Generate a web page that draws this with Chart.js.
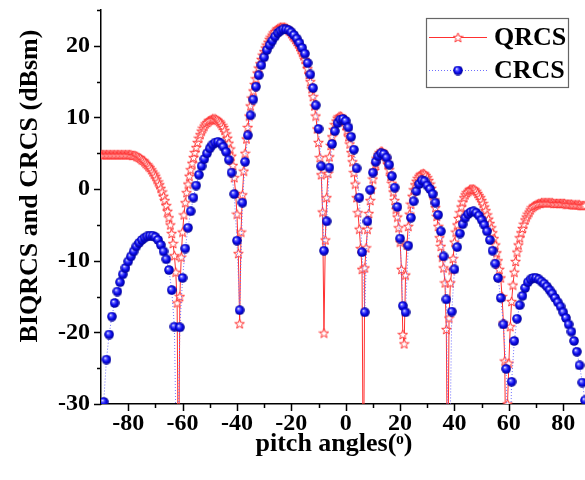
<!DOCTYPE html>
<html><head><meta charset="utf-8">
<script src="https://cdn.jsdelivr.net/npm/chart.js@4.4.1/dist/chart.umd.min.js"></script>
<style>html,body{margin:0;padding:0;background:#fff;} #wrap{width:585px;height:480px;position:relative;}</style>
</head><body><div id="wrap"><canvas id="c" width="585" height="480"></canvas></div>
<script>
// ---- data ----
const seriesNames = ['QRCS', 'CRCS'];
const xTicks = [-80, -60, -40, -20, 0, 20, 40, 60, 80];
const xMinorTicks = [-70, -50, -30, -10, 10, 30, 50, 70];
const yTicks = [-30, -20, -10, 0, 10, 20];
const yMinorTicks = [-25, -15, -5, 5, 15, 25];
const xTitle = 'pitch angles(\u1D52)';
const yTitle = 'BIQRCS and CRCS (dBsm)';

// QRCS sampled every 0.5 degree from -90
const qrcsStart = -90, qrcsStep = 0.5;
const qrcs = [
  4.8,4.8,4.8,4.8,4.8,4.8,4.8,4.8,4.8,4.8,
  4.8,4.8,4.8,4.8,4.8,4.8,4.8,4.8,4.8,4.8,
  4.8,4.8,4.8,4.7,4.7,4.7,4.6,4.5,4.4,4.3,
  4.1,4.0,3.8,3.6,3.4,3.2,3.0,2.7,2.4,2.1,
  1.8,1.4,1.0,0.6,0.1,-0.4,-1.0,-1.6,-2.3,-3.1,
  -4.0,-5.0,-6.2,-7.6,-9.3,-11.6,-15.9,-45,-15.0,-9.5,
  -6.0,-3.6,-1.9,-0.5,0.7,1.8,2.7,3.6,4.4,5.1,
  5.8,6.5,7.1,7.6,8.1,8.5,8.8,9.1,9.3,9.5,
  9.6,9.7,9.8,9.8,9.8,9.7,9.6,9.4,9.2,8.9,
  8.6,8.2,7.7,7.1,6.4,5.6,4.6,3.3,1.6,-0.6,
  -3.5,-9.0,-18.8,-6.0,-0.8,2.5,5.0,7.0,8.6,10.2,
  11.6,12.7,13.7,14.6,15.4,16.2,16.9,17.5,18.1,18.7,
  19.2,19.7,20.1,20.5,20.9,21.2,21.5,21.8,22.0,22.2,
  22.4,22.5,22.6,22.6,22.6,22.6,22.5,22.4,22.2,22.0,
  21.7,21.4,21.2,20.9,20.6,20.3,19.9,19.5,19.1,18.6,
  18.1,17.5,16.8,16.0,15.0,14.0,12.9,11.6,10.2,8.4,
  6.5,4.4,2.0,-3.2,-20.1,-7.1,-1.2,2.2,4.5,6.1,
  7.3,8.3,9.0,9.5,9.9,10.1,10.2,10.1,9.8,9.4,
  8.9,8.2,7.3,6.3,5.1,3.8,2.3,0.7,-1.2,-3.3,
  -5.6,-8.3,-11.2,-45,-11.0,-8.2,-5.6,-3.4,-1.6,0.0,
  1.4,2.6,3.5,4.3,4.8,5.1,5.3,5.2,5.0,4.6,
  4.1,3.5,2.7,1.8,0.8,-0.4,-1.6,-2.8,-3.9,-5.4,
  -7.4,-11.2,-20.3,-21.6,-12.0,-7.8,-5.2,-3.5,-2.1,-1.0,
  -0.1,0.6,1.1,1.5,1.8,2.0,2.1,2.2,2.1,1.9,
  1.6,1.2,0.7,0.1,-0.6,-1.5,-2.6,-3.8,-5.2,-6.8,
  -8.0,-9.5,-11.0,-13.1,-19.6,-45,-18.0,-13.1,-11.3,-9.7,
  -7.4,-6.0,-5.0,-4.1,-3.3,-2.5,-1.8,-1.2,-0.8,-0.5,
  -0.3,-0.1,0.0,0.0,0.0,-0.1,-0.3,-0.6,-0.9,-1.2,
  -1.6,-2.0,-2.5,-3.0,-3.6,-4.2,-4.8,-5.4,-6.1,-6.9,
  -7.8,-8.9,-10.0,-11.2,-12.4,-15.0,-18.7,-24.0,-45,-30.0,
  -24.3,-19.2,-15.7,-13.4,-11.6,-10.1,-8.8,-7.8,-6.8,-6.1,
  -5.5,-4.9,-4.3,-3.9,-3.5,-3.2,-2.9,-2.6,-2.4,-2.3,
  -2.2,-2.1,-2.0,-2.0,-1.9,-1.9,-1.9,-1.9,-1.9,-1.9,
  -1.9,-1.9,-1.9,-2.0,-2.0,-2.0,-2.0,-2.0,-2.0,-2.0,
  -2.0,-2.0,-2.1,-2.1,-2.1,-2.1,-2.1,-2.2,-2.2,-2.2,
  -2.2,-2.2,-2.2,-2.3,-2.3,-2.3,-2.3
];

// CRCS sampled every 1 degree from -90
const crcsStart = -90, crcsStep = 1;
const crcs = [
  -45,-29.7,-23.8,-20.3,-17.8,-15.9,-14.3,-13.0,-11.9,-11.0,
  -10.1,-9.4,-8.7,-8.0,-7.5,-7.1,-6.8,-6.6,-6.5,-6.5,
  -6.7,-7.1,-7.8,-8.7,-9.8,-11.3,-14.1,-19.2,-45,-19.3,
  -12.4,-8.3,-5.4,-3.1,-1.2,0.5,2.0,3.2,4.2,5.0,
  5.7,6.2,6.5,6.6,6.4,5.9,5.2,4.1,2.3,-0.7,
  -7.2,-16.9,-1.9,3.8,7.5,10.3,12.5,14.3,15.9,17.3,
  18.4,19.4,20.1,20.7,21.3,21.8,22.1,22.3,22.3,22.2,
  21.9,21.5,21.0,20.4,19.7,18.9,17.6,16.0,14.1,11.7,
  8.4,3.2,-8.6,-4.5,3.0,6.3,8.1,9.2,9.7,9.8,
  9.5,8.6,7.3,5.5,2.9,-1.2,-8.8,-17.2,-4.5,-0.1,
  2.3,3.8,4.6,5.0,4.9,4.4,3.4,1.8,0.2,-2.5,
  -6.9,-16.3,-17.2,-7.9,-4.0,-1.7,-0.3,0.7,1.2,1.1,
  0.5,0.0,-0.7,-1.9,-3.6,-5.9,-9.4,-15.4,-45,-17.1,
  -11.2,-8.1,-6.2,-4.9,-4.0,-3.5,-3.2,-3.1,-3.3,-3.7,
  -4.3,-5.0,-5.9,-7.1,-8.6,-10.4,-12.4,-15.2,-18.9,-25.1,
  -45,-26.9,-21.2,-18.1,-16.2,-14.9,-13.8,-13.0,-12.6,-12.4,
  -12.4,-12.6,-12.9,-13.2,-13.6,-14.1,-14.6,-15.2,-15.8,-16.4,
  -17.2,-18.0,-18.9,-19.9,-21.2,-22.7,-24.6,-27.0,-29.5
];

// ---- styling ----
const FONT = '"Liberation Serif", "Times New Roman", serif';
const RED = '#ff3030';
const BLUE_LINE = '#6f6fff';

function makeStar() {
  const c = document.createElement('canvas'); c.width = 11; c.height = 11;
  const g = c.getContext('2d');
  g.beginPath();
  for (let i = 0; i < 10; i++) {
    const r = i % 2 === 0 ? 5 : 2.1;
    const a = -Math.PI / 2 + i * Math.PI / 5;
    const x = 5.5 + r * Math.cos(a), y = 5.9 + r * Math.sin(a);
    if (i === 0) g.moveTo(x, y); else g.lineTo(x, y);
  }
  g.closePath();
  g.fillStyle = '#ffffff'; g.fill();
  g.strokeStyle = RED; g.lineWidth = 1; g.stroke();
  return c;
}
function makeSphere() {
  const c = document.createElement('canvas'); c.width = 10; c.height = 10;
  const g = c.getContext('2d');
  const grd = g.createRadialGradient(3.6, 3.3, 0.2, 5, 5, 5);
  grd.addColorStop(0, '#f4f4ff');
  grd.addColorStop(0.22, '#6a6aff');
  grd.addColorStop(0.55, '#0c0cf0');
  grd.addColorStop(1, '#00008c');
  g.fillStyle = grd;
  g.beginPath(); g.arc(5, 5, 4.8, 0, Math.PI * 2); g.fill();
  return c;
}
const starImg = makeStar();
const sphereImg = makeSphere();

function toPoints(start, step, vals) {
  return vals.map((v, i) => ({ x: start + step * i, y: v }));
}

const decorPlugin = {
  id: 'decor',
  afterLayout(chart) {
    // let the plot run to the right edge of the canvas, as in the reference
    const ca = chart.chartArea, xs = chart.scales.x;
    ca.right = chart.width; ca.width = ca.right - ca.left;
    xs.right = chart.width; xs.width = xs.right - xs.left;
    xs.configure();
  },
  afterDraw(chart) {
    const ctx = chart.ctx, xs = chart.scales.x, ys = chart.scales.y, ca = chart.chartArea;
    ctx.save();
    ctx.strokeStyle = '#000'; ctx.lineWidth = 1.5;
    ctx.beginPath();
    xTicks.forEach(v => { const p = Math.round(xs.getPixelForValue(v)) + 0.5; ctx.moveTo(p, ca.bottom); ctx.lineTo(p, ca.bottom + 7); });
    xMinorTicks.forEach(v => { const p = Math.round(xs.getPixelForValue(v)) + 0.5; ctx.moveTo(p, ca.bottom); ctx.lineTo(p, ca.bottom + 4); });
    yTicks.forEach(v => { const p = Math.round(ys.getPixelForValue(v)) + 0.5; ctx.moveTo(ca.left, p); ctx.lineTo(ca.left - 7, p); });
    yMinorTicks.forEach(v => { const p = Math.round(ys.getPixelForValue(v)) + 0.5; ctx.moveTo(ca.left, p); ctx.lineTo(ca.left - 4, p); });
    ctx.stroke();

    ctx.fillStyle = '#000';
    ctx.font = 'bold 26px ' + FONT;
    // x axis title
    ctx.textAlign = 'center'; ctx.textBaseline = 'middle';
    ctx.fillText(xTitle, 334, 444);
    // y axis title
    ctx.textBaseline = 'alphabetic';
    ctx.save();
    ctx.translate(37, 186);
    ctx.rotate(-Math.PI / 2);
    ctx.fillText(yTitle, 0, 0);
    ctx.restore();

    // legend
    const bx = 426.5, by = 18.5, bw = 142, bh = 69;
    ctx.fillStyle = '#fff';
    ctx.fillRect(bx, by, bw, bh);
    ctx.strokeStyle = '#666'; ctx.lineWidth = 1.2;
    ctx.strokeRect(bx, by, bw, bh);
    const rows = [
      { y: 37, color: RED, dash: [], img: starImg, name: chart.data.datasets[0].label },
      { y: 70, color: BLUE_LINE, dash: [1, 2], img: sphereImg, name: chart.data.datasets[1].label }
    ];
    rows.forEach(r => {
      ctx.strokeStyle = r.color; ctx.lineWidth = 1; ctx.setLineDash(r.dash);
      ctx.beginPath(); ctx.moveTo(429, r.y + 0.5); ctx.lineTo(487, r.y + 0.5); ctx.stroke();
      ctx.setLineDash([]);
      ctx.drawImage(r.img, 458 - r.img.width / 2, r.y - r.img.height / 2 + 0.5);
      ctx.fillStyle = '#000';
      ctx.font = 'bold 26px ' + FONT;
      ctx.textAlign = 'left'; ctx.textBaseline = 'middle';
      ctx.fillText(r.name, 494, r.y + 1);
    });
    ctx.restore();
  }
};

new Chart(document.getElementById('c').getContext('2d'), {
  type: 'line',
  data: {
    datasets: [
      {
        label: seriesNames[0],
        data: toPoints(qrcsStart, qrcsStep, qrcs),
        borderColor: RED, backgroundColor: RED, borderWidth: 1,
        pointStyle: starImg, pointRadius: 5, pointHoverRadius: 5,
        fill: false, tension: 0, order: 2
      },
      {
        label: seriesNames[1],
        data: toPoints(crcsStart, crcsStep, crcs),
        borderColor: BLUE_LINE, backgroundColor: BLUE_LINE, borderWidth: 1, borderDash: [1, 2],
        pointStyle: sphereImg, pointRadius: 5, pointHoverRadius: 5,
        fill: false, tension: 0, order: 1
      }
    ]
  },
  options: {
    responsive: false, animation: false, events: [],
    layout: { padding: { top: 10, left: 0, right: 0, bottom: 0 } },
    plugins: { legend: { display: false }, tooltip: { enabled: false } },
    scales: {
      x: {
        type: 'linear', min: -90, max: 88,
        afterFit: s => { s.height = 76; s.paddingLeft = 0; s.paddingRight = 0; },
        afterBuildTicks: s => { s.ticks = xTicks.map(v => ({ value: v })); },
        grid: { display: false, drawTicks: false },
        border: { display: true, color: '#000', width: 1.5 },
        ticks: { padding: 5, color: '#000', maxRotation: 0, autoSkip: false, font: { family: FONT, size: 24, weight: 'bold' } },
        title: { display: false, text: xTitle }
      },
      y: {
        type: 'linear', min: -30, max: 25,
        afterFit: s => { s.width = 101; s.paddingTop = 0; s.paddingBottom = 0; },
        afterBuildTicks: s => { s.ticks = yTicks.map(v => ({ value: v })); },
        grid: { display: false, drawTicks: false },
        border: { display: true, color: '#000', width: 1.5 },
        ticks: { padding: 11, color: '#000', font: { family: FONT, size: 24, weight: 'bold' } },
        title: { display: false, text: yTitle }
      }
    }
  },
  plugins: [decorPlugin]
});
</script>
</body></html>
